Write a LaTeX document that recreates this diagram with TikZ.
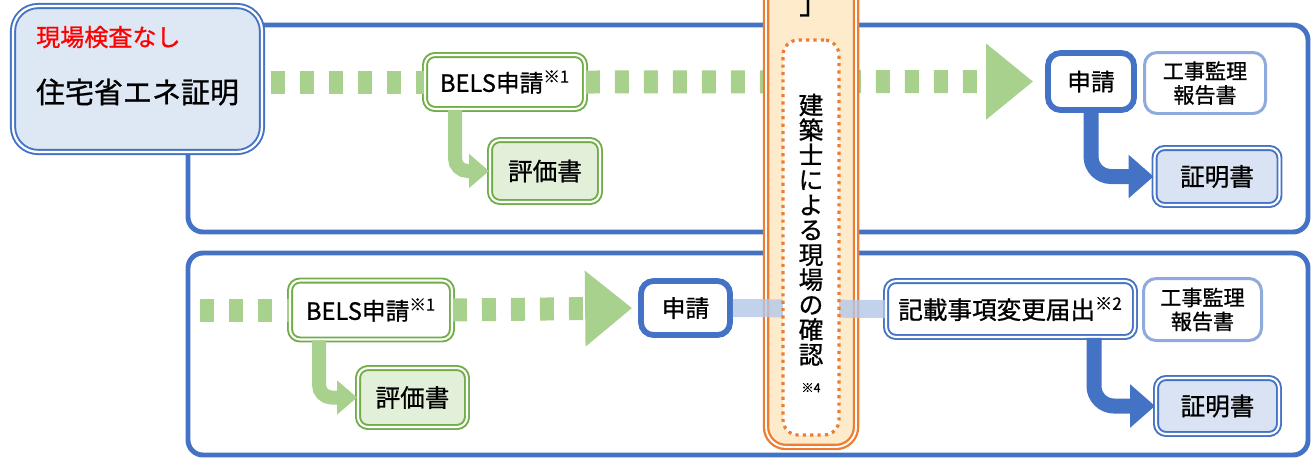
\documentclass[tikz,border=0pt]{standalone}
\usepackage{fontspec}
\setmainfont{Noto Sans CJK JP}[FakeBold=0.9]
\usepackage{tikz}
\usetikzlibrary{arrows.meta}

\definecolor{frameblue}{HTML}{4472C4}
\definecolor{hdrfill}{HTML}{DEE7F4}
\definecolor{certfill}{HTML}{DAE3F3}
\definecolor{reportblue}{HTML}{8FAADC}
\definecolor{linkblue}{HTML}{B4C7E7}
\definecolor{belsgreen}{HTML}{70AD47}
\definecolor{dashgreen}{HTML}{A9D18E}
\definecolor{evalfill}{HTML}{E2F0D9}
\definecolor{barorange}{HTML}{ED7D31}
\definecolor{barfill}{HTML}{FDEBCB}

\begin{document}
\begin{tikzpicture}[x=0.02cm,y=-0.02cm,
  bigframe/.style={draw=frameblue,line width=2.8pt,rounded corners=0.3cm},
  hdrbox/.style={draw=frameblue,double=white,double distance=1.3pt,line width=1.1pt,
    fill=hdrfill,rounded corners=0.5cm,minimum width=4.98cm,minimum height=2.92cm},
  belsbox/.style={draw=belsgreen,double=white,double distance=1.2pt,line width=1.1pt,
    fill=white,rounded corners=0.2cm,inner sep=2pt,font=\fontsize{13.5}{15}\selectfont},
  evalbox/.style={belsbox,fill=evalfill,font=\fontsize{14}{15}\selectfont},
  appbox/.style={draw=frameblue,line width=3.3pt,fill=white,rounded corners=0.25cm,
    inner sep=2pt,font=\fontsize{13.5}{15}\selectfont},
  reportbox/.style={draw=reportblue,line width=1.7pt,fill=white,rounded corners=0.25cm,
    inner sep=2pt,align=center,font=\fontsize{12}{13.6}\selectfont},
  certbox/.style={draw=frameblue,double=white,double distance=1.2pt,line width=1.1pt,
    fill=certfill,rounded corners=0.2cm,inner sep=2pt,font=\fontsize{14}{15}\selectfont},
  greendash/.style={draw=dashgreen,line width=0.46cm,dash pattern=on 0.28cm off 0.3cm},
  dasharrow/.style={greendash,-{Triangle[length=0.94cm,width=1.46cm]}},
  greenelbow/.style={draw=dashgreen,line width=0.28cm,rounded corners=0.25cm,
    -{Triangle[length=0.4cm,width=0.66cm]}},
  blueelbow/.style={draw=frameblue,line width=0.3cm,rounded corners=0.4cm,
    -{Triangle[length=0.5cm,width=0.84cm]}},
  barbox/.style={draw=barorange,double=white,double distance=1.1pt,line width=1.3pt,
    fill=barfill,rounded corners=0.4cm,minimum width=1.8cm,minimum height=9.48cm},
  dotbox/.style={draw=barorange,line width=1.8pt,dash pattern=on 1.8pt off 2.4pt,
    fill=white,rounded corners=0.3cm,minimum width=1.12cm,minimum height=7.9cm},
  linkline/.style={draw=linkblue,line width=0.36cm,opacity=0.8}
]
\useasboundingbox (0,0) rectangle (1314,458);
\clip (0,0) rectangle (1314,458);

% big frames
\draw[bigframe] (188,25) rectangle (1308,232);
\draw[bigframe] (188,253) rectangle (1308,455);

% header box
\node[hdrbox] (hdr) at (137.5,79) {};
\node[anchor=west,text=red,font=\fontsize{13.7}{15}\selectfont] (hdrnote) at (30,37) {現場検査なし};
\node[font=\fontsize{16.5}{18}\selectfont] (hdrtitle) at (137.5,92) {住宅省エネ証明};

% upper row
\node[belsbox,minimum width=3.2cm,minimum height=1.08cm] (bels1) at (505,82) {BELS申請\textsuperscript{※1}};
\node[evalbox,minimum width=2.2cm,minimum height=1.24cm] (eval1) at (545,171) {評価書};
\node[appbox,minimum width=1.72cm,minimum height=1.14cm] (shin1) at (1091,81.5) {申請};
\node[reportbox,minimum width=2.42cm,minimum height=1.22cm] (rep1) at (1205,83) {工事監理\\報告書};
\node[certbox,minimum width=2.5cm,minimum height=1.14cm] (cert1) at (1217,176.5) {証明書};

% lower row
\coordinate (start2) at (200,310);
\node[belsbox,minimum width=3.24cm,minimum height=1.18cm] (bels2) at (371,310) {BELS申請\textsuperscript{※1}};
\node[evalbox,minimum width=2.18cm,minimum height=1.18cm] (eval2) at (412.5,397.5) {評価書};
\node[appbox,minimum width=1.78cm,minimum height=1.08cm] (shin2) at (685.5,308) {申請};
\node[belsbox,draw=frameblue,minimum width=4.98cm,minimum height=1.12cm,font=\fontsize{14}{15}\selectfont] (kisai) at (1010.5,309) {記載事項変更届出\textsuperscript{※2}};
\node[reportbox,minimum width=2.36cm,minimum height=1.24cm] (rep2) at (1202.5,309.5) {工事監理\\報告書};
\node[certbox,minimum width=2.46cm,minimum height=1.12cm] (cert2) at (1217.5,406) {証明書};

% dotted flows
\draw[greendash,shorten <=0.16cm] (hdr.east |- bels1) -- (bels1.west);
\draw[dasharrow,shorten >=0.24cm] (bels1.east) -- (shin1.west);
\draw[greendash] (start2) -- (bels2.west);
\draw[dasharrow,shorten >=0.12cm] (bels2.east) -- (shin2.west);

% elbow arrows
\draw[greenelbow] ([xshift=-1.0cm]bels1.south) |- (eval1.west);
\draw[greenelbow] ([xshift=-1.04cm]bels2.south) |- (eval2.west);
\draw[blueelbow] (shin1.south) |- (cert1.west);
\draw[blueelbow] ([xshift=1.67cm]kisai.south) |- (cert2.west);

% site check bar
\node[barbox] (chk) at (811,210) {};
\node[font=\fontsize{16}{18}\selectfont,anchor=base west] (chktop) at (793,14) {」};
\draw[linkline] (shin2.east) -- (kisai.west);
\node[dotbox] (chkin) at (811,237.5) {};
\node[align=center,font=\fontsize{14}{14.2}\selectfont] (chktxt) at (811,243)
  {建\\築\\士\\に\\よ\\る\\現\\場\\の\\確\\認\\[2pt]{\fontsize{7}{8}\selectfont ※4}};
\end{tikzpicture}
\end{document}
